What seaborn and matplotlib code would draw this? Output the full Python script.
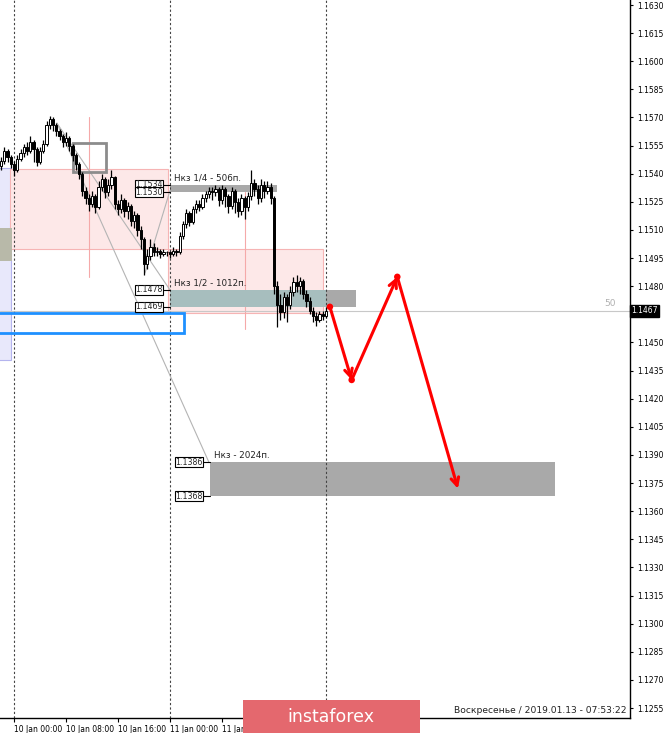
import numpy as np
import matplotlib
matplotlib.use("Agg")
import matplotlib.pyplot as plt
import seaborn as sns
from matplotlib.patches import Rectangle

# ---- data (time = hours from 10 Jan 00:00, M30 candles) ----
candle_start = -2.0
candle_step = 0.5
first_open = 1.1544
closes = [1.1547, 1.1552, 1.1549, 1.1545, 1.1542, 1.1548, 1.1551, 1.1554, 1.1552, 1.1557,
          1.1553, 1.1546, 1.1552, 1.1556, 1.1566, 1.1569, 1.1566, 1.1563, 1.1560, 1.1557,
          1.1559, 1.1555, 1.1550, 1.1545, 1.1540, 1.1531, 1.1527, 1.1524, 1.1528, 1.1522,
          1.1533, 1.1537, 1.1530, 1.1534, 1.1538, 1.1524, 1.1521, 1.1526, 1.1520, 1.1523,
          1.1515, 1.1518, 1.1510, 1.1505, 1.1492, 1.1496, 1.1501, 1.1498, 1.1499, 1.1497,
          1.1498, 1.1498, 1.1497, 1.1499, 1.1498, 1.1507, 1.1513, 1.1519, 1.1514, 1.1521,
          1.1524, 1.1522, 1.1527, 1.1529, 1.1531, 1.1530, 1.1532, 1.1526, 1.1532, 1.1528,
          1.1523, 1.1531, 1.1525, 1.1520, 1.1527, 1.1522, 1.1528, 1.1535, 1.1532, 1.1527,
          1.1534, 1.1531, 1.1533, 1.1527, 1.1480, 1.1470, 1.1466, 1.1474, 1.1470, 1.1477,
          1.1482, 1.1480, 1.1483, 1.1476, 1.1472, 1.1467, 1.1464, 1.1462, 1.1465, 1.1464,
          1.1467]
highs = [1.1549, 1.1554, 1.1553, 1.1550, 1.1547, 1.1550, 1.1553, 1.1556, 1.1557, 1.1560,
         1.1558, 1.1554, 1.1554, 1.1558, 1.1568, 1.1571, 1.1570, 1.1567, 1.1564, 1.1561,
         1.1562, 1.1560, 1.1556, 1.1551, 1.1546, 1.1541, 1.1533, 1.1529, 1.1531, 1.1529,
         1.1536, 1.1540, 1.1538, 1.1537, 1.1542, 1.1539, 1.1526, 1.1529, 1.1527, 1.1525,
         1.1524, 1.1520, 1.1519, 1.1512, 1.1506, 1.1500, 1.1505, 1.1503, 1.1501, 1.1500,
         1.1500, 1.1499, 1.1499, 1.1501, 1.1500, 1.1509, 1.1515, 1.1521, 1.1520, 1.1523,
         1.1526, 1.1526, 1.1529, 1.1531, 1.1533, 1.1533, 1.1534, 1.1533, 1.1534, 1.1533,
         1.1529, 1.1533, 1.1532, 1.1527, 1.1529, 1.1528, 1.1530, 1.1542, 1.1537, 1.1534,
         1.1537, 1.1536, 1.1536, 1.1535, 1.1528, 1.1483, 1.1476, 1.1477, 1.1476, 1.1480,
         1.1485, 1.1486, 1.1485, 1.1484, 1.1478, 1.1474, 1.1469, 1.1466, 1.1467, 1.1467,
         1.1469]
lows = [1.1542, 1.1545, 1.1546, 1.1543, 1.1539, 1.1541, 1.1547, 1.1549, 1.1550, 1.1551,
        1.1546, 1.1544, 1.1545, 1.1551, 1.1555, 1.1564, 1.1563, 1.1560, 1.1558, 1.1554,
        1.1555, 1.1552, 1.1547, 1.1542, 1.1537, 1.1528, 1.1524, 1.1520, 1.1522, 1.1519,
        1.1521, 1.1531, 1.1527, 1.1528, 1.1532, 1.1521, 1.1518, 1.1519, 1.1517, 1.1516,
        1.1512, 1.1511, 1.1507, 1.1500, 1.1486, 1.1489, 1.1494, 1.1496, 1.1496, 1.1495,
        1.1496, 1.1496, 1.1495, 1.1496, 1.1496, 1.1497, 1.1505, 1.1511, 1.1512, 1.1513,
        1.1519, 1.1520, 1.1521, 1.1525, 1.1527, 1.1526, 1.1528, 1.1523, 1.1524, 1.1522,
        1.1519, 1.1521, 1.1519, 1.1517, 1.1518, 1.1516, 1.1520, 1.1526, 1.1528, 1.1524,
        1.1525, 1.1527, 1.1529, 1.1524, 1.1476, 1.1458, 1.1462, 1.1463, 1.1461, 1.1468,
        1.1475, 1.1477, 1.1476, 1.1473, 1.1469, 1.1465, 1.1461, 1.1459, 1.1461, 1.1462,
        1.1463]

current_price = 1.1467
session_lines = [0, 24, 48]
xtick_hours = [0, 8, 16, 24, 32, 40]
xtick_labels = ["10 Jan 00:00", "10 Jan 08:00", "10 Jan 16:00",
                "11 Jan 00:00", "11 Jan 08:00", "11 Jan 16:00"]

# pink boxes: (t0, t1, low, high) and their center verticals (t, low, high)
pink_boxes = [(-0.6, 23.7, 1.1500, 1.15425), (23.7, 47.5, 1.14657, 1.1500)]
pink_verticals = [(11.5, 1.1485, 1.1570), (35.5, 1.1457, 1.1530)]

# target zones
zone_names = ["Нкз 1/4 - 506п.", "Нкз 1/2 - 1012п.", "Нкз - 2024п."]
zone_start = [24.0, 24.0, 30.15]
zone_end = [40.5, 48.0, 83.2]
zone_low = [1.1530, 1.1469, 1.1368]
zone_high = [1.1534, 1.1478, 1.1386]

# forecast path
fc_hours = [48.6, 51.95, 58.97, 68.3]
fc_prices = [1.1469, 1.1430, 1.1485, 1.1372]

# helper lines (t0, p0, t1, p1)
guide_lines = [(6.6, 1.1567, 24.0, 1.1478), (6.6, 1.1567, 30.0, 1.1386),
               (20.15, 1.1487, 24.0, 1.1531)]

yticks = np.round(np.arange(1.1255, 1.16301, 0.0015), 4)

# ---- figure ----
sns.set_theme(style="white")
plt.rcParams["font.family"] = ["DejaVu Sans"]

fig = plt.figure(figsize=(6.65, 7.33), dpi=100)
ax = fig.add_axes([0, 15 / 733, 630 / 665, 718 / 733])
ax.set_xlim(-2.154, 94.77)
ax.set_ylim(1.124967, 1.163267)

# left side leftovers
ax.add_patch(Rectangle((-3, 1.14406), 2.54, 1.1543 - 1.14406, facecolor="#e8e8fb",
                       edgecolor="#b4b4ee", lw=0.8, zorder=1))
ax.add_patch(Rectangle((-3, 1.14935), 2.7, 1.15111 - 1.14935, facecolor="#b8b9a9",
                       edgecolor="none", zorder=1.1))

for t0, t1, lo, hi in pink_boxes:
    ax.add_patch(Rectangle((t0, lo), t1 - t0, hi - lo, facecolor="#fde8e8",
                           edgecolor="#f6b4b4", lw=0.8, zorder=1))
for t, lo, hi in pink_verticals:
    ax.plot([t, t], [lo, hi], color="#f5a9a9", lw=0.8, zorder=1.2)

# zones
ax.add_patch(Rectangle((zone_start[0], zone_low[0]), zone_end[0] - zone_start[0],
                       zone_high[0] - zone_low[0], facecolor="#a9a9a9", edgecolor="none", zorder=1.5))
ax.add_patch(Rectangle((zone_start[1], zone_low[1]), zone_end[1] - zone_start[1],
                       zone_high[1] - zone_low[1], facecolor="#a7bebe", edgecolor="none", zorder=1.5))
ax.add_patch(Rectangle((zone_end[1], zone_low[1]), 4.6, zone_high[1] - zone_low[1],
                       facecolor="#a9a9a9", edgecolor="none", zorder=1.5))
ax.add_patch(Rectangle((zone_start[2], zone_low[2]), zone_end[2] - zone_start[2],
                       zone_high[2] - zone_low[2], facecolor="#a9a9a9", edgecolor="none", zorder=1.5))

# blue box + grey frame
ax.add_patch(Rectangle((-3, 1.1455), 29.15, 1.14657 - 1.1455, fill=False,
                       edgecolor="#1e90ff", lw=2, zorder=3))
ax.add_patch(Rectangle((9.08, 1.15409), 5.07, 1.15564 - 1.15409, fill=False,
                       edgecolor="#8c8c8c", lw=2, zorder=3))

# current price line
ax.axhline(current_price, color="#c8c8c8", lw=0.8, zorder=1.3)
ax.text(92.6, current_price + 0.00015, "50", color="#b0b0b0", fontsize=6.5,
        ha="right", va="bottom")

# session separators
for t in session_lines:
    ax.axvline(t, color="#444444", lw=0.8, ls=(0, (2, 2)), zorder=2)

# guide lines
for t0, p0, t1, p1 in guide_lines:
    sns.lineplot(x=[t0, t1], y=[p0, p1], ax=ax, color="#b4b4b4", lw=0.8, zorder=2)

# candles
opens = [first_open] + closes[:-1]
times = candle_start + candle_step * np.arange(len(closes))
ax.vlines(times, lows, highs, color="black", lw=0.9, zorder=4)
for t, o, c in zip(times, opens, closes):
    bull = c >= o
    lo, hi = min(o, c), max(o, c)
    ax.add_patch(Rectangle((t - 0.18, lo), 0.36, max(hi - lo, 0.00004),
                           facecolor="white" if bull else "black",
                           edgecolor="black", lw=0.7, zorder=5))

# price tags
tag_style = dict(boxstyle="square,pad=0.06", facecolor="white", edgecolor="black", lw=0.8)
for i in range(3):
    for p in (zone_high[i], zone_low[i]):
        x_tag = zone_start[i] - 1.15
        ax.plot([x_tag, zone_start[i]], [p, p], color="black", lw=0.8, zorder=6)
        ax.text(x_tag, p, f"{p:.4f}", fontsize=5.7, ha="right", va="center",
                bbox=tag_style, zorder=7)
    ax.text(zone_start[i] + 0.6, zone_high[i] + 0.00012, zone_names[i], fontsize=6.3,
            color="#222222", ha="left", va="bottom", zorder=7)

# forecast arrows
for k in range(len(fc_hours) - 1):
    ax.annotate("", xy=(fc_hours[k + 1], fc_prices[k + 1]), xytext=(fc_hours[k], fc_prices[k]),
                arrowprops=dict(arrowstyle="->", color="#ff0000", lw=2.2, mutation_scale=14,
                                shrinkA=0, shrinkB=0), zorder=8)
sns.scatterplot(x=fc_hours[:-1], y=fc_prices[:-1], ax=ax, color="#ff0000", s=22,
                edgecolor="none", zorder=9)

# axes look
for side in ("left", "top"):
    ax.spines[side].set_visible(False)
for side in ("right", "bottom"):
    ax.spines[side].set_color("black")
    ax.spines[side].set_linewidth(1)
ax.yaxis.tick_right()
ax.set_yticks(yticks)
# the 1.1465 label sits under the current-price tag
ax.set_yticklabels(["" if abs(v - 1.1465) < 1e-6 else f"{v:.4f}" for v in yticks])
ax.set_xticks(xtick_hours)
ax.set_xticklabels(xtick_labels, ha="left")
ax.tick_params(axis="y", length=2, width=0.8, labelsize=5.5, pad=3, colors="black", right=True)
ax.tick_params(axis="x", length=3, width=0.8, labelsize=5.5, pad=2, colors="black", bottom=True)
ax.grid(False)
ax.set_xlabel("")
ax.set_ylabel("")

ax.text(1.002, current_price, "1.1467", transform=ax.get_yaxis_transform(),
        fontsize=5.5, color="white", ha="left", va="center",
        bbox=dict(boxstyle="square,pad=0.2", facecolor="black", edgecolor="black"), zorder=10,
        clip_on=False)
ax.text(0.995, 0.011, "Воскресенье / 2019.01.13 - 07:53:22", transform=ax.transAxes,
        fontsize=6.6, color="#222222", ha="right", va="center")

# banner
fig.add_artist(Rectangle((243 / 665, 0), 177 / 665, 33 / 733, transform=fig.transFigure,
                         facecolor="#e4686e", edgecolor="none", zorder=20))
fig.text(331 / 665, 16 / 733, "instaforex", color="white", fontsize=12.5,
         ha="center", va="center", zorder=21)

fig.savefig("out.png", dpi=100)
